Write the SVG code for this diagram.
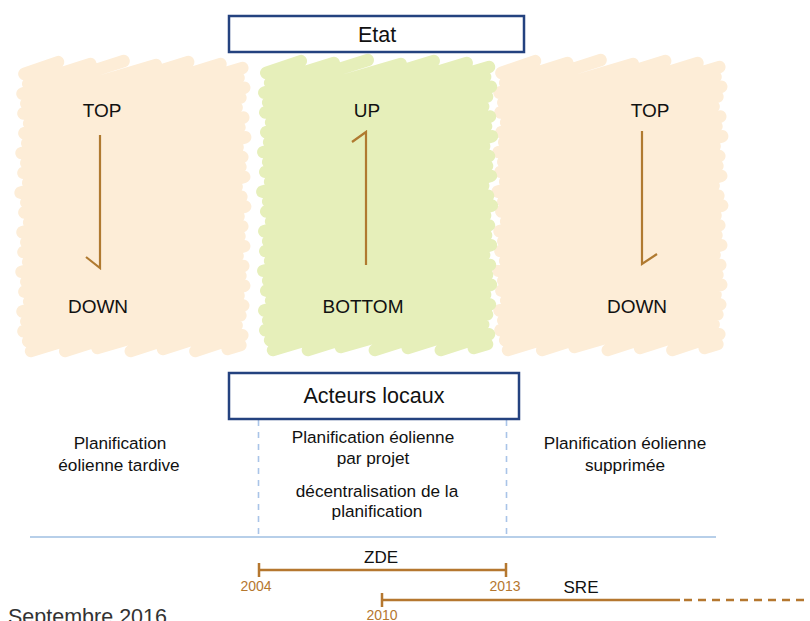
<svg xmlns="http://www.w3.org/2000/svg" width="810" height="621" viewBox="0 0 810 621">
<style>
.lbl{font-family:"Liberation Sans",Arial,sans-serif;fill:#111;text-anchor:middle}
.big{font-size:19px}
.box{fill:#fff;stroke:#24427f;stroke-width:2.5}
.hd{font-size:21.5px}
.txt{font-size:17.2px}
.arr{stroke:#b07a30;stroke-width:2.2;fill:none}
.tl{stroke:#b5772f;stroke-width:2.5;fill:none}
.yr{font-family:"Liberation Sans",Arial,sans-serif;font-size:14px;fill:#b5772f;text-anchor:middle}
.sep{stroke:#b7cfe9;stroke-width:2;fill:none}
.dash{stroke:#a9c4e8;stroke-width:1.6;stroke-dasharray:6 6;fill:none}
</style>
<defs>
<path id="scrib" fill="none" stroke="currentColor" stroke-width="12.5" stroke-linecap="round" d="M-2 10L34 -2M2 20L68 0M-4 30L103 -3M0 40L137 1M-3 50L171 -2M3 60L205 0M-2 70L228 4M1 80L224 14M-5 90L230 24M0 100L226 34M-3 110L222 44M2 120L229 54M-6 130L225 64M0 140L231 74M-2 150L223 84M3 160L228 94M-4 170L226 104M0 180L230 114M-3 190L222 124M2 200L227 134M-5 210L231 144M0 220L224 154M-2 230L228 164M3 240L225 174M-4 250L230 184M0 260L223 194M-3 270L229 204M2 280L226 214M5 290L230 224M41 290L224 234M75 287L229 244M110 290L226 254M144 288L222 264M178 290L228 274M212 288L226 284"/>
</defs>
<g id="panel-left">
<use href="#scrib" transform="translate(26,64) scale(0.95,0.99)" color="#fdedd7"/>
<text class="lbl big" x="102" y="117">TOP</text>
<text class="lbl big" x="98" y="313">DOWN</text>
<path class="arr" d="M100 135V268L86 257"/>
</g>
<g id="panel-right">
<use href="#scrib" transform="translate(503,63) scale(0.95,0.99)" color="#fdedd7"/>
<text class="lbl big" x="650" y="117">TOP</text>
<text class="lbl big" x="637" y="313">DOWN</text>
<path class="arr" d="M642 131V264L657 254"/>
</g>
<g id="panel-middle">
<use href="#scrib" transform="translate(268,63) scale(0.97,0.99)" color="#e6efba"/>
<text class="lbl big" x="367" y="117">UP</text>
<text class="lbl big" x="363" y="313">BOTTOM</text>
<path class="arr" d="M366 265V132L352 142"/>
</g>
<g id="etat">
<rect class="box" x="229" y="16" width="295" height="36"/>
<text class="lbl hd" x="377" y="42">Etat</text>
</g>
<g id="connectors">
<path class="dash" d="M258.5 420V537M506.5 420V537"/>
<path class="sep" d="M30 537H716"/>
</g>
<g id="acteurs">
<rect class="box" x="229" y="373" width="290" height="46"/>
<text class="lbl hd" x="374" y="403">Acteurs locaux</text>
</g>
<g id="text-left">
<text class="lbl txt" x="120" y="449">Planification</text>
<text class="lbl txt" x="119" y="471">éolienne tardive</text>
</g>
<g id="text-middle">
<text class="lbl txt" x="373" y="443">Planification éolienne</text>
<text class="lbl txt" x="373" y="464">par projet</text>
<text class="lbl txt" x="377" y="497">décentralisation de la</text>
<text class="lbl txt" x="377" y="517">planification</text>
</g>
<g id="text-right">
<text class="lbl txt" x="625" y="449">Planification éolienne</text>
<text class="lbl txt" x="625" y="471">supprimée</text>
</g>
<g id="zde">
<path class="tl" d="M259 570H506M259 563V577M506 563V577"/>
<text class="lbl" style="font-size:17px" x="381" y="563">ZDE</text>
<text class="yr" x="256" y="591">2004</text>
<text class="yr" x="505" y="591">2013</text>
</g>
<g id="sre">
<path class="tl" d="M382 600H680M382 593V607"/>
<path class="tl" d="M684 600H810" stroke-dasharray="8 6"/>
<text class="lbl" style="font-size:17px" x="581" y="593">SRE</text>
<text class="yr" x="382" y="620">2010</text>
</g>
<text style="font-family:'Liberation Sans',Arial,sans-serif;font-size:21.5px;fill:#333" x="8" y="624">Septembre 2016</text>
</svg>
